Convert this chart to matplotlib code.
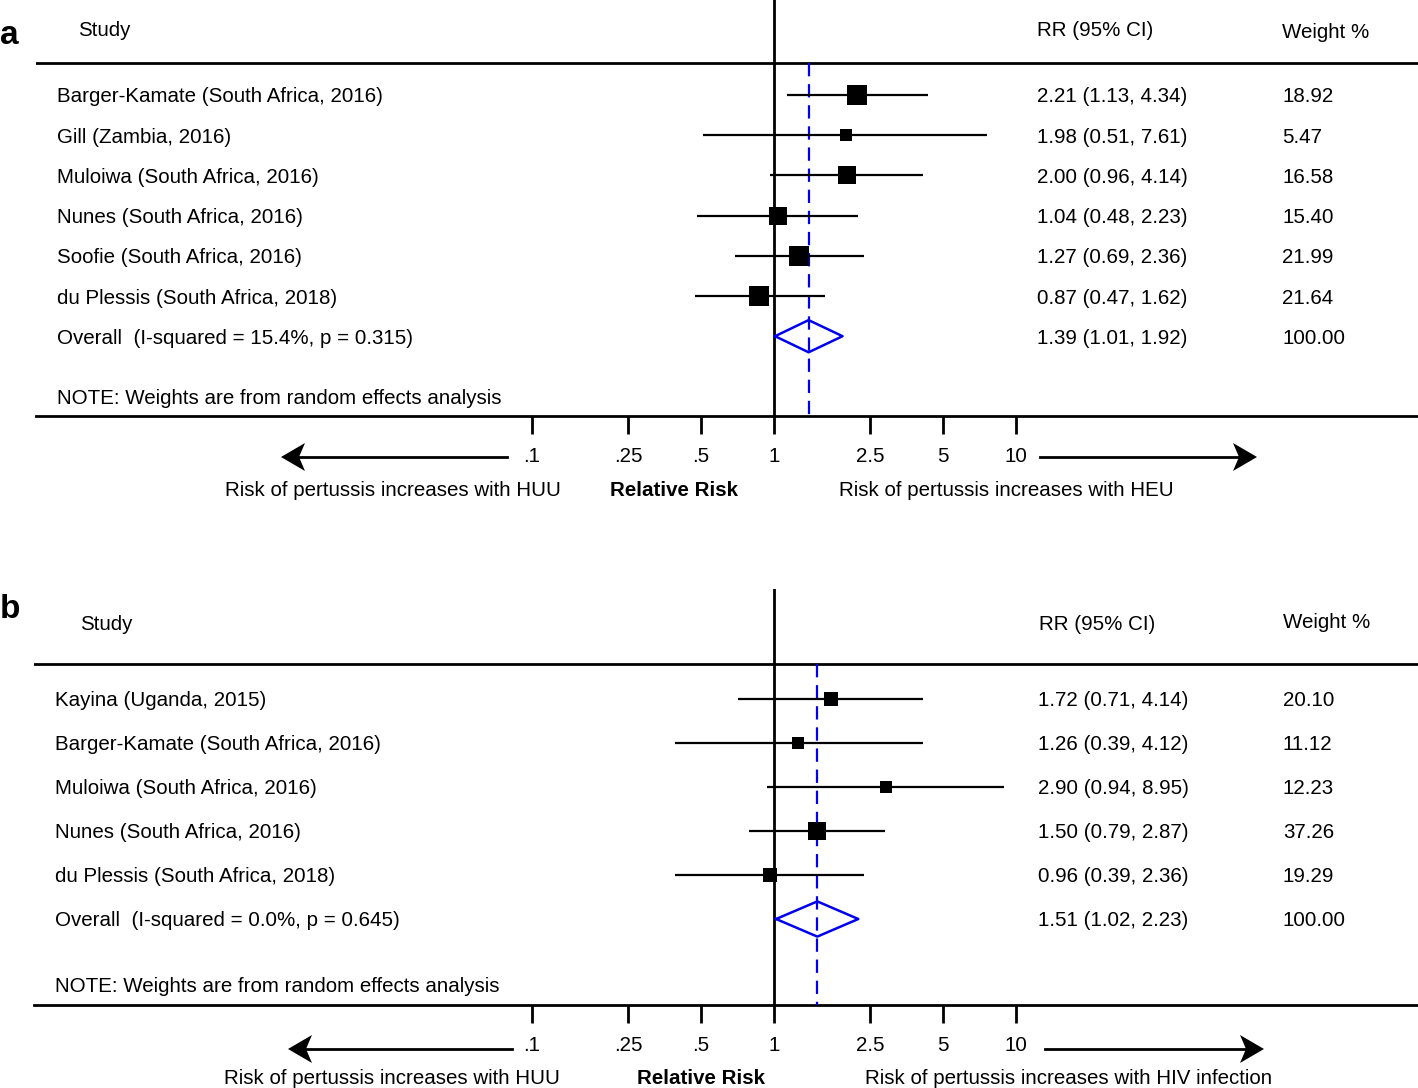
import matplotlib
matplotlib.use('Agg')
import matplotlib.pyplot as plt
from matplotlib.transforms import blended_transform_factory
from matplotlib.patches import Polygon
import numpy as np

plt.rcParams['font.family'] = ['Liberation Sans', 'DejaVu Sans']

# ---- data, panel a ----
studies_a = ['Barger-Kamate (South Africa, 2016)', 'Gill (Zambia, 2016)',
             'Muloiwa (South Africa, 2016)', 'Nunes (South Africa, 2016)',
             'Soofie (South Africa, 2016)', 'du Plessis (South Africa, 2018)']
rr_a = [2.21, 1.98, 2.00, 1.04, 1.27, 0.87]
lo_a = [1.13, 0.51, 0.96, 0.48, 0.69, 0.47]
hi_a = [4.34, 7.61, 4.14, 2.23, 2.36, 1.62]
wt_a = [18.92, 5.47, 16.58, 15.40, 21.99, 21.64]
overall_a = [1.39, 1.01, 1.92]
overall_lbl_a = 'Overall  (I-squared = 15.4%, p = 0.315)'
right_lbl_a = 'Risk of pertussis increases with HEU'

# ---- data, panel b ----
studies_b = ['Kayina (Uganda, 2015)', 'Barger-Kamate (South Africa, 2016)',
             'Muloiwa (South Africa, 2016)', 'Nunes (South Africa, 2016)',
             'du Plessis (South Africa, 2018)']
rr_b = [1.72, 1.26, 2.90, 1.50, 0.96]
lo_b = [0.71, 0.39, 0.94, 0.79, 0.39]
hi_b = [4.14, 4.12, 8.95, 2.87, 2.36]
wt_b = [20.10, 11.12, 12.23, 37.26, 19.29]
overall_b = [1.51, 1.02, 2.23]
overall_lbl_b = 'Overall  (I-squared = 0.0%, p = 0.645)'
right_lbl_b = 'Risk of pertussis increases with HIV infection'

tick_vals = [0.1, 0.25, 0.5, 1, 2.5, 5, 10]
tick_lbls = ['.1', '.25', '.5', '1', '2.5', '5', '10']
note = 'NOTE: Weights are from random effects analysis'
left_lbl = 'Risk of pertussis increases with HUU'

W, H = 1418, 1088
fig = plt.figure(figsize=(W / 100, H / 100), dpi=100)
FS = 14.8
X1, DEC = 774, 242   # pixel of RR=1 and width of one decade


def px2log(p):
    return 10 ** ((p - X1) / DEC)


def arrow(x0, x1, yp):
    # line plus a notched (stealth) head, in figure pixels
    d = 1 if x1 > x0 else -1
    hl, hw, notch = 24, 14, 6
    fx = lambda p: p / W
    fy = lambda p: (H - p) / H
    fig.add_artist(plt.Line2D([fx(x0), fx(x1 - d * (hl - notch))], [fy(yp), fy(yp)],
                              transform=fig.transFigure, color='black', lw=2.0))
    pts = [(x1, yp), (x1 - d * hl, yp - hw), (x1 - d * (hl - notch), yp),
           (x1 - d * hl, yp + hw)]
    fig.add_artist(Polygon([(fx(a), fy(b)) for a, b in pts], closed=True,
                           transform=fig.transFigure, color='black', lw=0))


def panel(top, left, bot, rowgap, row0, studies, rr, lo, hi, wt, ov, ov_lbl,
          right_lbl, lay, box_c):
    ax = fig.add_axes([left / W, (H - bot) / H, (W - left) / W, (bot - top) / H])
    ax.set_xscale('log')
    ax.set_xlim(px2log(left), px2log(W))
    y = lambda p: (p - row0) / rowgap
    ax.set_ylim(y(bot), y(top))
    for s in ['top', 'left', 'right']:
        ax.spines[s].set_visible(False)
    ax.spines['bottom'].set_linewidth(2.0)
    ax.set_yticks([])
    ax.set_xticks(tick_vals)
    ax.set_xticklabels(tick_lbls, fontsize=FS)
    ax.xaxis.set_minor_locator(matplotlib.ticker.NullLocator())
    ax.tick_params(axis='x', length=13, width=2.0, pad=9)

    n = len(studies)
    rows = np.arange(n)
    ax.axvline(1, color='black', lw=2.0, zorder=2)
    ax.axhline(y(lay['line']), color='black', lw=2.0)
    ax.vlines(ov[0], y(lay['line']), y(bot), colors='#0000ee', lw=1.6,
              linestyles=(0, (6, 3.5)), zorder=3)
    ax.hlines(rows, lo, hi, colors='black', lw=1.6, zorder=4)
    for i in range(n):
        side = box_c * np.sqrt(wt[i]) + 4.8
        ax.plot(rr[i], rows[i], 's', color='black', ms=side * 0.72,
                mew=0, zorder=5)
    # overall diamond
    dy = 0.4
    ax.plot([ov[1], ov[0], ov[2], ov[0], ov[1]],
            [n, n - dy, n, n + dy, n], color='#0000ee', lw=1.8, zorder=6)

    tf = blended_transform_factory(fig.transFigure, ax.transData)
    va = 'center_baseline'
    for i in range(n):
        ax.text(lay['col0'] / W, i, studies[i], transform=tf, fontsize=FS, va=va)
        ax.text(lay['col1'] / W, i, '%.2f (%.2f, %.2f)' % (rr[i], lo[i], hi[i]),
                transform=tf, fontsize=FS, va=va)
        ax.text(lay['col2'] / W, i, '%.2f' % wt[i], transform=tf, fontsize=FS, va=va)
    ax.text(lay['col0'] / W, n, ov_lbl, transform=tf, fontsize=FS, va=va)
    ax.text(lay['col1'] / W, n, '%.2f (%.2f, %.2f)' % tuple(ov), transform=tf,
            fontsize=FS, va=va)
    ax.text(lay['col2'] / W, n, '100.00', transform=tf, fontsize=FS, va=va)
    ax.text(lay['col0'] / W, y(lay['note']), note, transform=tf, fontsize=FS, va=va)
    ax.text(lay['study'] / W, y(lay['hdr']), 'Study', transform=tf, fontsize=FS, va=va)
    ax.text(lay['rrh'] / W, y(lay['hdr']), 'RR (95% CI)', transform=tf, fontsize=FS, va=va)
    ax.text(lay['col2'] / W, y(lay['whdr']), 'Weight %', transform=tf, fontsize=FS, va=va)

    # axis labels below
    fy = lambda p: (H - p) / H
    fig.text(lay['lx'] / W, fy(lay['ly']), left_lbl, fontsize=FS, ha='center', va=va)
    fig.text(lay['mx'] / W, fy(lay['ly']), 'Relative Risk', fontsize=FS, ha='center',
             va=va, fontweight='bold')
    fig.text(lay['rx'] / W, fy(lay['ly']), right_lbl, fontsize=FS, ha='center', va=va)
    for a, b in lay['arrows']:
        arrow(a, b, lay['ay'])
    fig.text(0, fy(lay['tag']), lay['name'], fontsize=24, fontweight='bold', va='center')
    return ax


panel(0, 36, 416, 40.2, 95, studies_a, rr_a, lo_a, hi_a, wt_a, overall_a, overall_lbl_a,
      right_lbl_a,
      dict(line=63, note=397, hdr=28, whdr=30, study=78, rrh=1037, col0=57, col1=1037,
           col2=1282, lx=393, mx=674, rx=1006, ly=488, ay=457,
           arrows=[(507, 281), (1040, 1257)], tag=36, name='a'), 3.33)
panel(589, 34, 1005, 44, 699, studies_b, rr_b, lo_b, hi_b, wt_b, overall_b, overall_lbl_b,
      right_lbl_b,
      dict(line=664, note=985, hdr=623, whdr=620, study=80, rrh=1039, col0=55, col1=1038,
           col2=1283, lx=392, mx=701, rx=1069, ly=1076, ay=1049,
           arrows=[(512, 288), (1045, 1264)], tag=610, name='b'), 2.17)

fig.savefig('out.png', dpi=100)
